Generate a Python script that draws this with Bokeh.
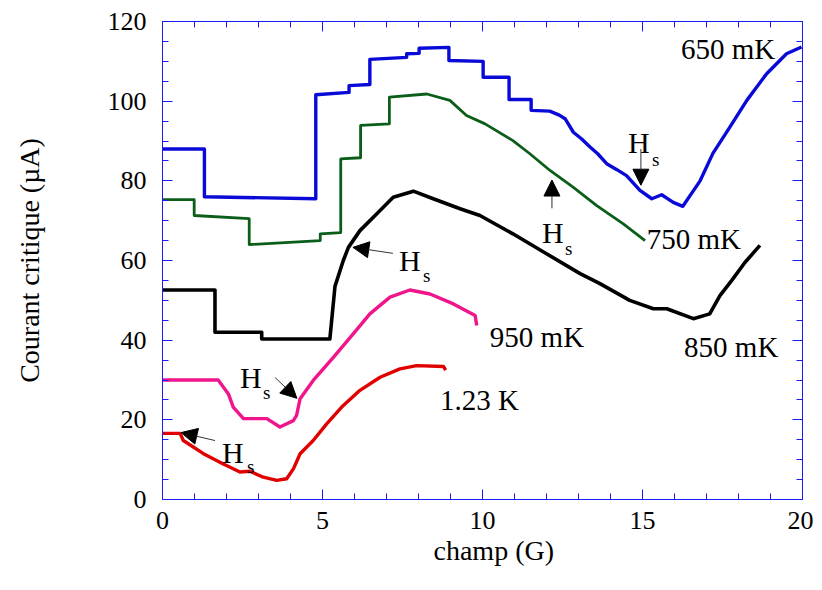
from bokeh.plotting import figure
from bokeh.models import (Range1d, LinearAxis, SingleIntervalTicker, Label, Arrow,
                          NormalHead, Title)
from bokeh.embed import file_html
from bokeh.resources import INLINE

# ---------------- data ----------------
x_650 = [0, 1.31, 1.31, 4.79, 4.79, 5.83, 5.83, 6.48, 6.48, 7.63, 7.63, 8.02, 8.02, 8.95, 8.95,
         10.02, 10.02, 10.83, 10.83, 11.52, 11.52, 12.1, 12.4, 12.58, 12.84, 13.1, 13.36, 13.6,
         13.88, 14.2, 14.5, 14.92, 15.29, 15.6, 15.96, 16.26, 16.8, 17.2, 17.73, 18.26, 18.88,
         19.5, 19.97]
y_650 = [88, 88, 76, 75.5, 101.6, 102.2, 103.9, 104.2, 110.5, 111, 111.9, 112, 113.3, 113.5, 110.2,
         110, 106, 106, 100.4, 100.4, 97.7, 97.5, 96.5, 95.6, 92.2, 90.5, 88.5, 86.8,
         84.3, 82.8, 81.3, 77.6, 75.5, 76.5, 74.6, 73.6, 80, 86.9, 93.5, 100.2, 106.9,
         111.9, 113.6]

x_750 = [0, 0.99, 0.99, 2.71, 2.71, 4.93, 4.93, 5.57, 5.57, 6.19, 6.19, 7.09, 7.09, 8.26, 8.98,
         9.5, 10.08, 10.95, 11.48, 12.11, 12.83, 13.57, 14.4, 15.08]
y_750 = [75.3, 75.3, 71.3, 70.5, 64, 65, 66.7, 67, 85.5, 85.8, 93.9, 94.3, 101, 101.8, 100.2,
         96.4, 94.3, 90.1, 86.8, 82.6, 78.4, 73.8, 69.2, 65]

x_850 = [0, 1.64, 1.64, 3.1, 3.1, 5.23, 5.39, 5.65, 5.81, 6.17, 6.69, 7.21, 7.84, 8.46, 9.3,
         9.92, 10.95, 12.0, 13.05, 13.67, 14.6, 15.34, 15.76, 16.59, 17.1, 17.42, 17.79, 18.2, 18.67]
y_850 = [52.6, 52.6, 42, 42, 40.3, 40.3, 53.5, 60, 63.3, 67.5, 71.7, 75.9, 77.4, 75.5, 73,
         71.3, 66.7, 61.7, 56.7, 54.2, 50, 47.9, 47.9, 45.4, 46.6, 51.2, 55, 59.5, 63.8]

x_950 = [0, 1.74, 2.06, 2.21, 2.53, 3.26, 3.67, 4.09, 4.19, 4.3, 4.71, 5.34, 5.96, 6.48, 7.11,
         7.73, 8.36, 9.09, 9.77, 9.82]
y_950 = [30, 30, 26.5, 23.2, 20.3, 20.3, 18.2, 19.8, 21.1, 25.3, 29.9, 35.7, 41.6, 46.6, 50.8,
         52.6, 51.6, 49.1, 46.2, 43.7]

x_123 = [0, 0.55, 0.65, 1.28, 1.9, 2.42, 2.73, 3.15, 3.57, 3.88, 4.09, 4.3, 4.71, 5.13, 5.6,
         6.17, 6.8, 7.42, 7.94, 8.78, 8.85]
y_123 = [16.6, 16.6, 14.8, 11.5, 8.9, 6.9, 7.1, 5.6, 4.8, 5.2, 7.7, 11.5, 14.8, 19, 23.2,
         27.4, 30.7, 32.8, 33.6, 33.4, 32.5]

series_labels = ["650 mK", "750 mK", "850 mK", "950 mK", "1.23 K"]
series_colors = ["#0a0ad8", "#0b5e1a", "#000000", "#f0158a", "#e00000"]

x_title = "champ (G)"
y_title = "Courant critique (µA)"

x_ticks_interval = 5
y_ticks_interval = 20

FONT = "Liberation Serif"
AXIS_COLOR = "#1a1aff"

p = figure(frame_width=640, frame_height=478,
           x_range=Range1d(0, 20), y_range=Range1d(0, 120),
           output_backend="svg", toolbar_location=None,
           min_border_left=162, min_border_right=11, min_border_top=21, min_border_bottom=78)
p.xgrid.visible = False
p.ygrid.visible = False
p.outline_line_color = None
p.background_fill_color = "white"
p.border_fill_color = "white"

xs = [x_650, x_750, x_850, x_950, x_123]
ys = [y_650, y_750, y_850, y_950, y_123]
widths = [3.4, 2.8, 3.6, 3.4, 3.4]
for xv, yv, c, w in zip(xs, ys, series_colors, widths):
    p.line(x=xv, y=yv, line_color=c, line_width=w, line_join="round")

def style_axis(ax, ticker, show_labels):
    ax.ticker = ticker
    ax.axis_line_color = AXIS_COLOR
    ax.major_tick_line_color = AXIS_COLOR
    ax.minor_tick_line_color = AXIS_COLOR
    ax.major_tick_in = 10
    ax.major_tick_out = 0
    ax.minor_tick_in = 6
    ax.minor_tick_out = 0
    ax.major_label_text_font = FONT
    ax.major_label_text_color = "black"
    ax.axis_label_text_font = FONT
    ax.axis_label_text_font_style = "normal"
    ax.axis_label_text_color = "black"
    ax.axis_label_text_font_size = "28px"
    if show_labels:
        ax.major_label_text_font_size = "26px"
    else:
        ax.major_label_text_font_size = "1px"
        ax.major_label_text_color = None
        ax.major_label_standoff = 0

bx = p.xaxis[0]
style_axis(bx, SingleIntervalTicker(interval=x_ticks_interval, num_minor_ticks=5), True)
bx.major_label_standoff = 12

ly = p.yaxis[0]
style_axis(ly, SingleIntervalTicker(interval=y_ticks_interval, num_minor_ticks=4), True)
ly.major_label_standoff = 16
ly.axis_label = y_title
ly.axis_label_standoff = 60

ta = LinearAxis()
style_axis(ta, SingleIntervalTicker(interval=x_ticks_interval, num_minor_ticks=5), False)
p.add_layout(ta, "above")
ra = LinearAxis()
style_axis(ra, SingleIntervalTicker(interval=y_ticks_interval, num_minor_ticks=4), False)
p.add_layout(ra, "right")

# x-axis title (slightly right of centre as in the original)
p.add_layout(Title(text=x_title, text_font=FONT, text_font_size="28px", text_font_style="normal",
                   text_color="black", align="left", offset=271, standoff=3), "below")

# series labels
lab_pos = [(16.2, 113.2), (15.13, 65.5), (16.3, 38.2), (10.23, 40.8), (8.67, 24.9)]
for (lx, ly_), t in zip(lab_pos, series_labels):
    p.add_layout(Label(x=lx, y=ly_, text=t, text_font=FONT, text_font_size="29px",
                       text_color="black", text_baseline="alphabetic", text_align="left"))

# H_s annotations: (H pos, s pos, arrow start, arrow end)
hs = [
    ((14.55, 89.6), (15.30, 85.3), (14.95, 88.0), (14.95, 78.9)),
    ((11.86, 67.0), (12.58, 63.0), (12.17, 73.1), (12.17, 80.2)),
    ((7.39, 60.0), (8.14, 56.2), (7.20, 61.8), (5.95, 63.3)),
    ((2.42, 30.6), (3.14, 26.9), (3.52, 30.6), (4.20, 25.4)),
    ((1.86, 11.8), (2.64, 8.3), (1.64, 14.8), (0.58, 16.8)),
]
for (hp, sp, a0, a1) in hs:
    p.add_layout(Label(x=hp[0], y=hp[1], text="H", text_font=FONT, text_font_size="30px",
                       text_color="black", text_baseline="alphabetic"))
    p.add_layout(Label(x=sp[0], y=sp[1], text="s", text_font=FONT, text_font_size="19px",
                       text_color="black", text_baseline="alphabetic"))
    p.add_layout(Arrow(x_start=a0[0], y_start=a0[1], x_end=a1[0], y_end=a1[1],
                       line_color="#333333", line_width=1,
                       end=NormalHead(size=16, fill_color="black", line_color="black", line_width=1)))

open("out.html", "w").write(file_html(p, INLINE))
